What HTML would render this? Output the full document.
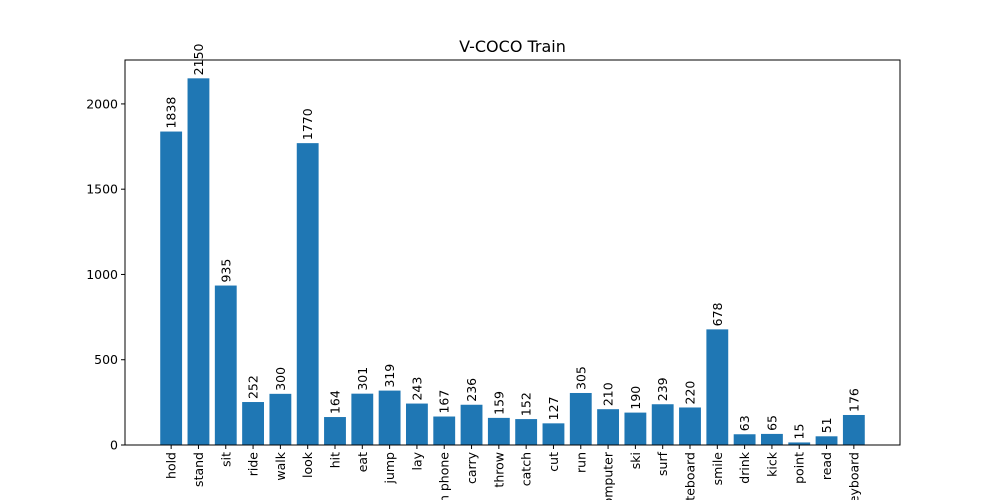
<!DOCTYPE html>
<html><head><meta charset="utf-8"><style>
html,body{margin:0;padding:0;background:#fff;width:1000px;height:500px;overflow:hidden;}
svg{display:block;font-family:"DejaVu Sans","Liberation Sans",sans-serif;}
</style></head><body>
<svg id="chart" width="1000" height="500" viewBox="0 0 1000 500" overflow="hidden">
<rect width="1000" height="500" fill="#fff"/>
<text x="512.5" y="52" text-anchor="middle" font-size="16" fill="#000">V-COCO Train</text>
<g id="bars"></g>
<g id="axes"></g>
<rect x="125" y="60" width="775" height="385" fill="none" stroke="#000" stroke-width="1"/>
</svg>
<script>
const categories = ["hold","stand","sit","ride","walk","look","hit","eat","jump","lay","talk on phone","carry","throw","catch","cut","run","work on computer","ski","surf","skateboard","smile","drink","kick","point","read","keyboard"];
const values = [1838,2150,935,252,300,1770,164,301,319,243,167,236,159,152,127,305,210,190,239,220,678,63,65,15,51,176];
const yTicks = [0,500,1000,1500,2000];

const NS="http://www.w3.org/2000/svg";
const L=125,R=900,T=60,B=445;
const xmin=-1.69,xmax=categories.length-1+1.69;
const ymax=Math.max(...values)*1.05;
const xs=i=>L+(i-xmin)/(xmax-xmin)*(R-L);
const ys=v=>B-v/ymax*(B-T);
const unit=(R-L)/(xmax-xmin);
const bw=unit*0.8;
const bars=document.getElementById('bars');
const axes=document.getElementById('axes');
function mk(tag,attrs,parent){const e=document.createElementNS(NS,tag);for(const k in attrs)e.setAttribute(k,attrs[k]);parent.appendChild(e);return e;}
values.forEach((v,i)=>{
  const cx=xs(i);
  const r=mk('rect',{x:cx-bw/2,y:ys(v),width:bw,height:B-ys(v),fill:'#1f77b4'},bars);
  
  
  const t=mk('text',{transform:`translate(${cx+4.5},${ys(v)-3}) rotate(-90)`,'font-size':12.5,fill:'#000'},bars);
  t.textContent=v;
  
  
  mk('line',{x1:cx,x2:cx,y1:B,y2:B+4,stroke:'#000'},axes);
  const xl=mk('text',{transform:`translate(${cx+4.5},${B+7}) rotate(-90)`,'font-size':12.5,'text-anchor':'end',fill:'#000'},axes);
  xl.textContent=categories[i];
  
  
});
yTicks.forEach(v=>{
  const y=ys(v);
  mk('line',{x1:L-4,x2:L,y1:y,y2:y,stroke:'#000'},axes);
  const t=mk('text',{x:L-7,y:y+4.5,'font-size':12.5,'text-anchor':'end',fill:'#000'},axes);
  t.textContent=v;
  
  
});
</script>
</body></html>
